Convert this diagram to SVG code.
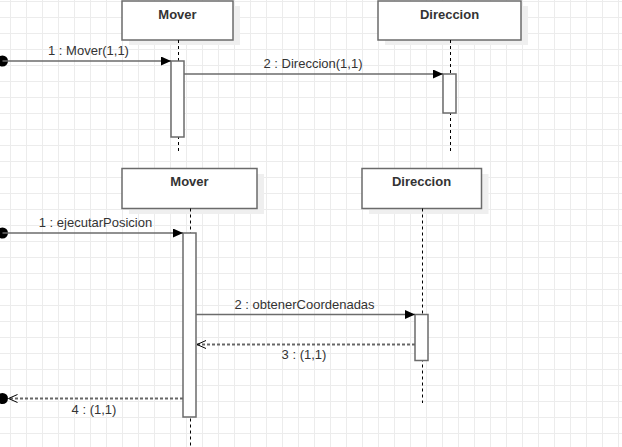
<svg xmlns="http://www.w3.org/2000/svg" width="622" height="447" viewBox="0 0 622 447">
  <defs>
    <pattern id="grid" x="10" y="1" width="16" height="16" patternUnits="userSpaceOnUse">
      <path d="M0.5,0 V16 M0,0.5 H16" stroke="#ececec" stroke-width="1" fill="none"/>
    </pattern>
    <marker id="filled" markerUnits="userSpaceOnUse" markerWidth="11" markerHeight="10" refX="10" refY="4.5" orient="auto">
      <path d="M0,0 L10,4.5 L0,9 Z" fill="#000"/>
    </marker>
    <marker id="open" markerUnits="userSpaceOnUse" markerWidth="11" markerHeight="10" refX="9.5" refY="4.5" orient="auto">
      <path d="M0.5,0.5 L9.5,4.5 L0.5,8.5" fill="none" stroke="#000" stroke-width="1"/>
    </marker>
  </defs>
  <style>
    .box { fill: #ffffff; stroke: #6b6b6b; stroke-width: 1.5; }
    .shadow { fill: #efefef; stroke: none; }
    .title { font-family: "Liberation Sans", Arial, sans-serif; font-size: 13px; font-weight: bold; fill: #333333; text-anchor: middle; }
    .label { font-family: "Liberation Sans", Arial, sans-serif; font-size: 13px; fill: #333333; text-anchor: middle; }
    .life { stroke: #000000; stroke-width: 1; stroke-dasharray: 3 3; fill: none; }
    .act { fill: #ffffff; stroke: #6b6b6b; stroke-width: 1.5; }
    .msg { stroke: #6b6b6b; stroke-width: 1.5; fill: none; }
    .ret { stroke: #666666; stroke-width: 2; fill: none; stroke-dasharray: 3 2; }
    .dot { fill: #000000; }
  </style>
  <rect x="0" y="0" width="622" height="447" fill="#ffffff"/>
  <rect x="0" y="0" width="622" height="447" fill="url(#grid)"/>

  <g id="mover1">
    <rect class="shadow" x="129" y="6" width="111" height="39"/>
    <rect class="box" x="122" y="1" width="111" height="39"/>
    <text class="title" x="177.5" y="18.5">Mover</text>
    <line class="life" x1="178.5" y1="40" x2="178.5" y2="153"/>
    <rect class="act" x="171" y="61" width="13" height="76"/>
  </g>

  <g id="direccion1">
    <rect class="shadow" x="385" y="6" width="143" height="39"/>
    <rect class="box" x="378" y="1" width="143" height="39"/>
    <text class="title" x="449.5" y="18.5">Direccion</text>
    <line class="life" x1="450.5" y1="40" x2="450.5" y2="153"/>
    <rect class="act" x="443" y="74" width="13" height="39"/>
  </g>

  <g id="mover2">
    <rect class="shadow" x="129" y="174" width="135" height="40"/>
    <rect class="box" x="122" y="168.5" width="135" height="40"/>
    <text class="title" x="189.5" y="186">Mover</text>
    <line class="life" x1="190.5" y1="208.5" x2="190.5" y2="447"/>
    <rect class="act" x="183" y="233" width="13" height="184"/>
  </g>

  <g id="direccion2">
    <rect class="shadow" x="369" y="174" width="119.5" height="40"/>
    <rect class="box" x="362" y="168.5" width="119.5" height="40"/>
    <text class="title" x="421.5" y="186">Direccion</text>
    <line class="life" x1="422.5" y1="208.5" x2="422.5" y2="403"/>
    <rect class="act" x="415" y="314.5" width="13" height="46"/>
  </g>

  <g id="connectors">
    <circle class="dot" cx="2.5" cy="61" r="5.5"/>
    <line class="msg" x1="2.5" y1="61" x2="171" y2="61" marker-end="url(#filled)"/>
    <text class="label" x="88.5" y="55">1 : Mover(1,1)</text>

    <line class="msg" x1="184" y1="74" x2="443" y2="74" marker-end="url(#filled)"/>
    <text class="label" x="313" y="68">2 : Direccion(1,1)</text>

    <circle class="dot" cx="2.5" cy="233" r="5.5"/>
    <line class="msg" x1="2.5" y1="233" x2="183" y2="233" marker-end="url(#filled)"/>
    <text class="label" x="95.5" y="226.5">1 : ejecutarPosicion</text>

    <line class="msg" x1="196" y1="314.5" x2="415" y2="314.5" marker-end="url(#filled)"/>
    <text class="label" x="304.5" y="308.5">2 : obtenerCoordenadas</text>

    <line class="ret" x1="415" y1="344.5" x2="197" y2="344.5" marker-end="url(#open)"/>
    <text class="label" x="304" y="358.5">3 : (1,1)</text>

    <circle class="dot" cx="2.5" cy="398.5" r="5.5"/>
    <line class="ret" x1="183" y1="398.5" x2="8.5" y2="398.5" marker-end="url(#open)"/>
    <text class="label" x="94" y="413.5">4 : (1,1)</text>
  </g>
</svg>
